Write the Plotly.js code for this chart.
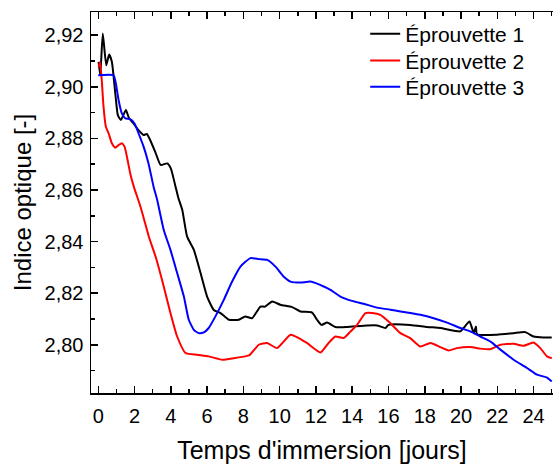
<!DOCTYPE html>
<html>
<head>
<meta charset="utf-8">
<script src="https://cdn.plot.ly/plotly-3.0.1.min.js"></script>
<style>html,body{margin:0;padding:0;background:#fff;}#chart{width:557px;height:465px;}</style>
</head>
<body>
<div id="chart"></div>
<script>
const seriesNames = ["Éprouvette 1", "Éprouvette 2", "Éprouvette 3"];
const seriesColors = ["#000000", "#ff0000", "#0000ff"];

const x1 = [0.02,0.11,0.25,0.44,0.6,0.75,0.94,1.08,1.25,1.52,1.7,1.94,2.22,2.5,2.68,2.86,3.14,3.44,3.8,4.0,4.26,4.42,4.63,4.9,5.27,5.64,6.0,6.37,6.74,7.2,7.75,8.1,8.48,8.94,9.2,9.59,10.04,10.69,11.15,11.79,12.06,12.3,12.62,13.07,13.72,14.63,15.37,15.83,16.0,17.2,18.13,18.86,19.96,20.14,20.47,20.7,20.82,20.88,21.98,22.9,23.54,24.0,24.55,25.0];
const y1 = [2.9097,2.9045,2.9207,2.9084,2.9125,2.9097,2.8974,2.889,2.8871,2.891,2.8878,2.8858,2.8832,2.8813,2.8817,2.8794,2.8748,2.8697,2.8703,2.8684,2.8613,2.8568,2.8523,2.8419,2.8368,2.8278,2.8187,2.8135,2.8123,2.8097,2.8097,2.811,2.8103,2.8148,2.8148,2.8168,2.8155,2.8146,2.8129,2.8125,2.8097,2.8077,2.8086,2.8069,2.8069,2.8074,2.8075,2.8065,2.8077,2.8077,2.8069,2.8065,2.8052,2.8065,2.809,2.8045,2.8071,2.8041,2.8039,2.8045,2.8049,2.8032,2.8028,2.8028];

const x2 = [0.02,0.1,0.2,0.29,0.42,0.57,0.75,0.94,1.12,1.3,1.45,1.58,1.76,1.96,2.33,2.79,3.16,3.61,3.98,4.35,4.81,5.45,6.09,6.83,7.47,8.2,8.36,8.85,9.31,9.86,10.6,11.05,11.5,12.25,12.7,13.07,13.53,13.9,14.27,14.73,15.1,15.55,16.1,16.66,17.2,17.76,18.31,18.86,19.32,19.78,20.51,21.06,21.61,22.17,22.9,23.45,24.0,24.37,24.74,25.0];
const y2 = [2.9077,2.9095,2.9019,2.8923,2.8845,2.882,2.8781,2.8764,2.8774,2.8781,2.8768,2.8729,2.8665,2.8613,2.8535,2.8419,2.8342,2.8226,2.8123,2.8032,2.7968,2.7961,2.7955,2.7942,2.7948,2.7957,2.7961,2.80,2.8007,2.7987,2.8039,2.8026,2.8007,2.797,2.8007,2.8032,2.8026,2.8051,2.8077,2.8123,2.8123,2.8116,2.8084,2.8045,2.8026,2.7993,2.8007,2.7991,2.7978,2.7987,2.7991,2.7985,2.7983,2.80,2.8004,2.7996,2.8009,2.7987,2.7955,2.7948];

const x3 = [0,0.84,0.97,1.12,1.3,1.49,1.76,2.0,2.22,2.5,2.77,3.05,3.25,3.61,3.98,4.35,4.72,4.99,5.27,5.54,5.82,6.09,6.46,6.92,7.38,7.84,8.39,8.85,9.31,9.77,10.23,10.6,11.15,11.7,12.43,12.8,13.35,13.99,14.63,15.37,16.1,16.66,17.02,17.76,18.49,19.23,19.96,20.51,21.06,21.61,22.17,22.9,23.64,24.19,24.74,25.0];
const y3 = [2.9045,2.9045,2.9013,2.8949,2.8897,2.8878,2.8875,2.8858,2.882,2.8768,2.8703,2.8613,2.8561,2.8445,2.8368,2.8278,2.8187,2.8097,2.8058,2.8045,2.8048,2.8065,2.811,2.8174,2.8245,2.8303,2.8336,2.8332,2.8329,2.8303,2.8264,2.8245,2.8241,2.8245,2.8226,2.8213,2.8187,2.817,2.8159,2.8144,2.8136,2.8129,2.8125,2.8116,2.8103,2.8086,2.8065,2.8052,2.8032,2.8013,2.7981,2.7942,2.791,2.7884,2.7873,2.7858];

const xs = [x1, x2, x3];
const ys = [y1, y2, y3];
const legendIds = ['legend', 'legend2', 'legend3'];
const traces = xs.map((x, i) => ({
  x: x, y: ys[i], type: 'scatter', mode: 'lines', name: seriesNames[i], legend: legendIds[i],
  line: {color: seriesColors[i], width: 2, shape: 'spline', smoothing: 0.5}
}));

const FONT = 'Liberation Sans, Arial, sans-serif';
const legendBase = {x: 0.5935, xanchor: 'left', yanchor: 'top', bgcolor: 'rgba(0,0,0,0)',
                    font: {family: FONT, size: 21, color: '#000'}};
const layout = {
  width: 557, height: 465,
  margin: {l: 90.5, r: 4, t: 12, b: 72, pad: 0},
  paper_bgcolor: '#fff', plot_bgcolor: '#fff',
  separators: ', ',
  font: {family: FONT, color: '#000', size: 20},
  showlegend: true,
  legend: Object.assign({}, legendBase, {y: 0.996}),
  legend2: Object.assign({}, legendBase, {y: 0.9253}),
  legend3: Object.assign({}, legendBase, {y: 0.857}),
  xaxis: {
    range: [-0.4, 25.07], tickmode: 'linear', tick0: 0, dtick: 2,
    ticks: 'inside', ticklen: 7, tickwidth: 1.5, tickcolor: '#000',
    minor: {dtick: 1, ticks: 'inside', ticklen: 4, tickwidth: 1.5, tickcolor: '#000'},
    showline: true, linecolor: '#000', linewidth: 1.5, mirror: 'ticks',
    showgrid: false, zeroline: false, ticklabelstandoff: 4,
    tickfont: {family: FONT, size: 20, color: '#000'},
    title: {text: "Temps d'immersion [jours]", font: {family: FONT, size: 25, color: '#000'}, standoff: 16}
  },
  yaxis: {
    range: [2.7813, 2.929], tickmode: 'linear', tick0: 2.80, dtick: 0.02, tickformat: '.2f',
    ticks: 'inside', ticklen: 7, tickwidth: 1.5, tickcolor: '#000',
    minor: {dtick: 0.01, ticks: 'inside', ticklen: 4, tickwidth: 1.5, tickcolor: '#000'},
    showline: true, linecolor: '#000', linewidth: 1.5, mirror: false,
    showgrid: false, zeroline: false, ticklabelstandoff: 2,
    tickfont: {family: FONT, size: 20, color: '#000'},
    title: {text: 'Indice optique [-]', font: {family: FONT, size: 24, color: '#000'}, standoff: 6}
  }
};

Plotly.newPlot('chart', traces, layout, {displayModeBar: false, staticPlot: true});
</script>
</body>
</html>
